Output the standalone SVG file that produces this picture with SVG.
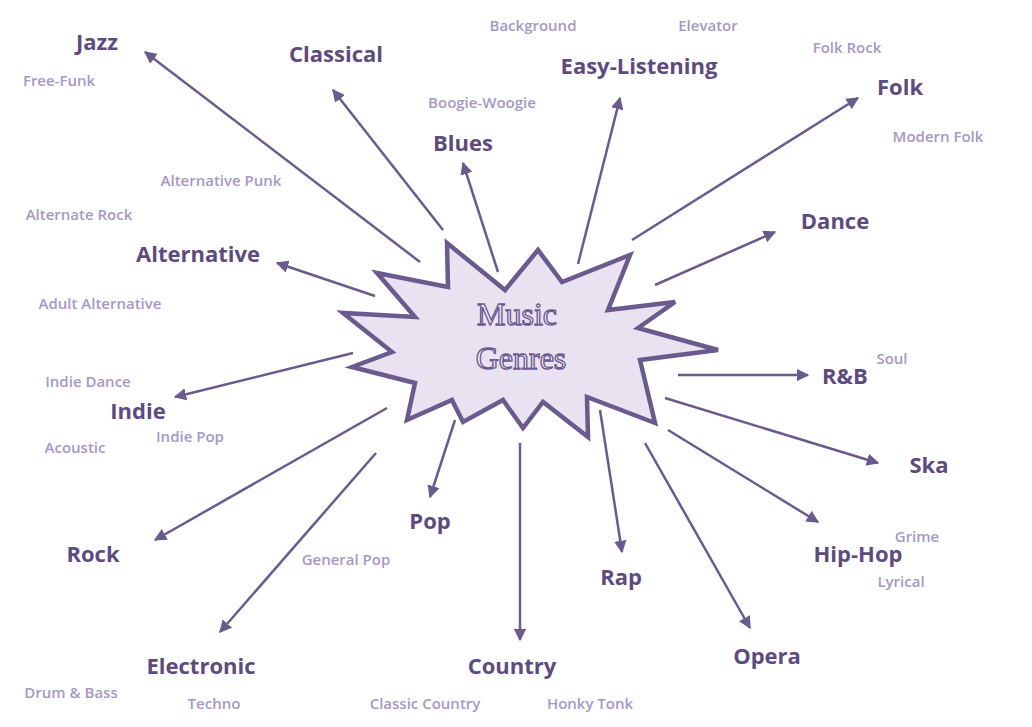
<svg xmlns="http://www.w3.org/2000/svg" width="1032" height="727" viewBox="0 0 1032 727">
<style>
.g{font-family:"Open Sans","Liberation Sans",sans-serif;font-weight:bold;font-size:22px;fill:#5d4b80;text-anchor:middle}
.s{font-family:"Open Sans","Liberation Sans",sans-serif;font-weight:600;font-size:15px;fill:#a698c4;text-anchor:middle}
.c line{stroke:#6b5a8e;stroke-width:2.5;marker-end:url(#a)}
.t{font-family:"Liberation Serif",serif;font-size:32px;fill:#ece6f3;stroke:#6b5a8e;stroke-width:1.3;text-anchor:middle}
</style>
<defs><marker id="a" viewBox="0 0 10 10" refX="9" refY="5" markerWidth="5" markerHeight="5" orient="auto"><path d="M0,0L10,5L0,10z" fill="#6b5a8e"/></marker></defs>
<rect width="1032" height="727" fill="#fff"/>
<g class="c">
<line x1="420" y1="262" x2="145" y2="52"/>
<line x1="443" y1="230" x2="333" y2="90"/>
<line x1="498" y1="272" x2="463" y2="163"/>
<line x1="578" y1="264" x2="620" y2="98"/>
<line x1="632" y1="240" x2="858" y2="98"/>
<line x1="655" y1="285" x2="775" y2="232"/>
<line x1="678" y1="375" x2="808" y2="375"/>
<line x1="665" y1="398" x2="878" y2="463"/>
<line x1="668" y1="430" x2="818" y2="522"/>
<line x1="645" y1="443" x2="750" y2="628"/>
<line x1="600" y1="410" x2="622" y2="552"/>
<line x1="520" y1="443" x2="520" y2="640"/>
<line x1="455" y1="420" x2="430" y2="497"/>
<line x1="376" y1="453" x2="220" y2="632"/>
<line x1="387" y1="408" x2="155" y2="540"/>
<line x1="353" y1="353" x2="175" y2="397"/>
<line x1="375" y1="296" x2="277" y2="263"/>
</g>
<g id="center">
<polygon points="377,273 448,287 447,243 505,290 538,250 562,282 630,255 608,310 675,302 638,328 718,350 640,360 655,423 587,397 588,437 543,402 523,428 503,400 463,422 452,400 407,420 415,383 352,367 392,352 343,313 415,317" fill="#e9e3f1" stroke="#6b5a8e" stroke-width="4.5" stroke-linejoin="miter"/>
<text class="t" x="517" y="325">Music</text>
<text class="t" x="521" y="369">Genres</text>
</g>
<g id="jazz"><text class="g" x="97" y="50">Jazz</text><text class="s" x="59" y="86">Free-Funk</text></g>
<g id="classical"><text class="g" x="336" y="62">Classical</text></g>
<g id="blues"><text class="g" x="463" y="151">Blues</text><text class="s" x="482" y="108">Boogie-Woogie</text></g>
<g id="easy"><text class="g" x="639" y="74">Easy-Listening</text><text class="s" x="533" y="31">Background</text><text class="s" x="708" y="31">Elevator</text></g>
<g id="folk"><text class="g" x="900" y="95">Folk</text><text class="s" x="847" y="53">Folk Rock</text><text class="s" x="938" y="142">Modern Folk</text></g>
<g id="dance"><text class="g" x="835" y="229">Dance</text></g>
<g id="rnb"><text class="g" x="845" y="384">R&amp;B</text><text class="s" x="892" y="364">Soul</text></g>
<g id="ska"><text class="g" x="929" y="473">Ska</text></g>
<g id="hiphop"><text class="g" x="858" y="562">Hip-Hop</text><text class="s" x="917" y="542">Grime</text><text class="s" x="901" y="587">Lyrical</text></g>
<g id="opera"><text class="g" x="767" y="664">Opera</text></g>
<g id="rap"><text class="g" x="621" y="585">Rap</text></g>
<g id="country"><text class="g" x="512" y="674">Country</text><text class="s" x="425" y="709">Classic Country</text><text class="s" x="590" y="709">Honky Tonk</text></g>
<g id="pop"><text class="g" x="430" y="529">Pop</text><text class="s" x="346" y="565">General Pop</text></g>
<g id="electronic"><text class="g" x="201" y="674">Electronic</text><text class="s" x="71" y="698">Drum &amp; Bass</text><text class="s" x="214" y="709">Techno</text></g>
<g id="rock"><text class="g" x="93" y="562">Rock</text></g>
<g id="indie"><text class="g" x="138" y="419">Indie</text><text class="s" x="88" y="387">Indie Dance</text><text class="s" x="190" y="442">Indie Pop</text><text class="s" x="75" y="453">Acoustic</text></g>
<g id="alternative"><text class="g" x="198" y="262">Alternative</text><text class="s" x="221" y="186">Alternative Punk</text><text class="s" x="79" y="220">Alternate Rock</text><text class="s" x="100" y="309">Adult Alternative</text></g>
</svg>
